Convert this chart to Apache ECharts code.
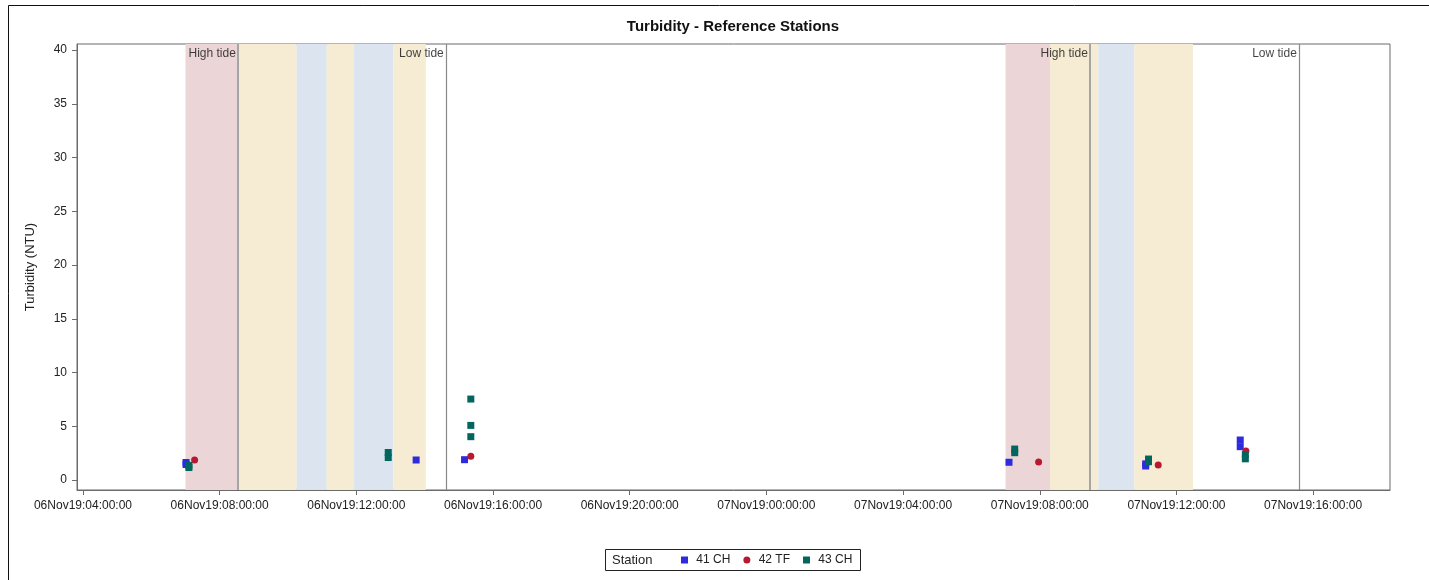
<!DOCTYPE html>
<html>
<head>
<meta charset="utf-8">
<script src="https://cdn.jsdelivr.net/npm/echarts@6/dist/echarts.min.js"></script>
<style>
html,body{margin:0;padding:0;background:#fff;}
#chart{width:1429px;height:580px;}
</style>
</head>
<body>
<div id="chart"></div>
<script>
// ---- data ----
const chartTitle = 'Turbidity - Reference Stations';
const yTitle = 'Turbidity (NTU)';
const stationNames = ['41 CH', '42 TF', '43 CH'];
const times41 = ['2019-11-06 07:01','2019-11-06 07:01','2019-11-06 13:45','2019-11-06 15:10','2019-11-07 07:06','2019-11-07 11:06','2019-11-07 11:06','2019-11-07 13:52','2019-11-07 13:52'];
const vals41  = [1.63, 1.44, 1.86, 1.89, 1.65, 1.5, 1.3, 3.72, 3.1];
const times42 = ['2019-11-06 07:16','2019-11-06 15:21','2019-11-07 07:58','2019-11-07 11:28','2019-11-07 14:02'];
const vals42  = [1.86, 2.2, 1.67, 1.4, 2.7];
const times43 = ['2019-11-06 07:06','2019-11-06 07:06','2019-11-06 12:56','2019-11-06 12:56','2019-11-06 15:21','2019-11-06 15:21','2019-11-06 15:21','2019-11-07 07:16','2019-11-07 07:16','2019-11-07 11:11','2019-11-07 11:11','2019-11-07 14:01','2019-11-07 14:01'];
const vals43  = [1.35, 1.16, 2.56, 2.09, 7.53, 5.08, 4.03, 2.88, 2.54, 1.95, 1.7, 2.37, 1.97];

const bandStarts = ['2019-11-06 07:00','2019-11-06 08:32','2019-11-06 10:15','2019-11-06 11:08','2019-11-06 11:56','2019-11-06 13:05',
                    '2019-11-07 07:00','2019-11-07 08:18','2019-11-07 09:43','2019-11-07 10:46'];
const bandEnds   = ['2019-11-06 08:32','2019-11-06 10:15','2019-11-06 11:08','2019-11-06 11:56','2019-11-06 13:05','2019-11-06 14:02',
                    '2019-11-07 08:18','2019-11-07 09:43','2019-11-07 10:46','2019-11-07 12:29'];
const bandTypes  = ['pink','yellow','blue','yellow','blue','yellow','pink','yellow','blue','yellow'];

const tideTimes  = ['2019-11-06 08:32','2019-11-06 14:37','2019-11-07 09:28','2019-11-07 15:35'];
const tideLabels = ['High tide','Low tide','High tide','Low tide'];

const xMin = '2019-11-06 03:49:30';
const xMax = '2019-11-07 18:15:00';
const xTicks = ['2019-11-06 04:00','2019-11-06 08:00','2019-11-06 12:00','2019-11-06 16:00','2019-11-06 20:00',
                '2019-11-07 00:00','2019-11-07 04:00','2019-11-07 08:00','2019-11-07 12:00','2019-11-07 16:00'];
const yTicks = [0, 5, 10, 15, 20, 25, 30, 35, 40];
const yMin = -0.93, yMax = 40.56;

// ---- helpers ----
function parseT(s){
  const m = s.match(/(\d+)-(\d+)-(\d+) (\d+):(\d+)(?::(\d+))?/);
  return Date.UTC(+m[1], +m[2]-1, +m[3], +m[4], +m[5], m[6]?+m[6]:0);
}
const MON = ['Jan','Feb','Mar','Apr','May','Jun','Jul','Aug','Sep','Oct','Nov','Dec'];
function p2(n){return (n<10?'0':'')+n;}
function fmtX(v){
  const d = new Date(v);
  return p2(d.getUTCDate()) + MON[d.getUTCMonth()] + String(d.getUTCFullYear()).slice(2) + ':' +
         p2(d.getUTCHours()) + ':' + p2(d.getUTCMinutes()) + ':' + p2(d.getUTCSeconds());
}
const bandColors = {pink:'#EBD5D7', yellow:'#F6EBD3', blue:'#DCE5EF'};
const seriesColors = ['#2E2BDD', '#B81830', '#03665E'];
const fontFam = 'Liberation Sans, Arial, sans-serif';

const chart = echarts.init(document.getElementById('chart'), null, {renderer:'canvas'});

const mkData = (ts, vs) => ts.map((t,i)=>[parseT(t), vs[i]]);

const option = {
  animation: false,
  backgroundColor: '#fff',
  textStyle: {fontFamily: fontFam},
  grid: {left: 77, right: 39, top: 44, bottom: 90, show: true, borderColor: '#6b6b6b', borderWidth: 1, backgroundColor: 'transparent'},
  xAxis: {
    type: 'value',
    min: parseT(xMin), max: parseT(xMax),
    axisLine: {show: true, onZero: false, lineStyle: {color: '#6b6b6b'}},
    axisTick: {show: true, length: 5, lineStyle: {color: '#6b6b6b'}, customValues: xTicks.map(parseT)},
    axisLabel: {color: '#222', fontSize: 12, fontFamily: fontFam, margin: 10, hideOverlap: false,
                customValues: xTicks.map(parseT), formatter: fmtX},
    splitLine: {show: false}
  },
  yAxis: {
    type: 'value',
    min: yMin, max: yMax,
    name: yTitle, nameLocation: 'middle', nameGap: 40,
    nameTextStyle: {color: '#222', fontSize: 13, fontFamily: fontFam},
    axisLine: {show: true, onZero: false, lineStyle: {color: '#6b6b6b'}},
    axisTick: {show: true, length: 5, lineStyle: {color: '#6b6b6b'}, customValues: yTicks},
    axisLabel: {color: '#222', fontSize: 12, fontFamily: fontFam, margin: 10, customValues: yTicks},
    splitLine: {show: false}
  },
  legend: {
    left: 676, top: 549,
    itemWidth: 7, itemHeight: 7, itemGap: 13,
    formatter: name => ' ' + name,
    textStyle: {fontSize: 12, color: '#222', fontFamily: fontFam},
    data: [
      {name: stationNames[0], icon: 'rect'},
      {name: stationNames[1], icon: 'circle'},
      {name: stationNames[2], icon: 'rect'}
    ]
  },
  graphic: [
    {type: 'rect', shape: {x: 8.5, y: 5.5, width: 1500, height: 700}, style: {fill: 'none', stroke: '#111', lineWidth: 1}, silent: true},
    {type: 'text', x: 733, y: 27, style: {text: chartTitle, font: 'bold 15px ' + fontFam, fill: '#111', textAlign: 'center', textVerticalAlign: 'middle'}},
    {type: 'rect', shape: {x: 605.5, y: 549.5, width: 255, height: 21}, style: {fill: 'none', stroke: '#222', lineWidth: 1}},
    {type: 'text', x: 612, y: 560, style: {text: 'Station', font: '13px ' + fontFam, fill: '#222', textVerticalAlign: 'middle'}}
  ],
  series: [
    {
      name: 'bands', type: 'scatter', data: [], silent: true, z: 1,
      markArea: {
        silent: true,
        data: bandStarts.map((s,i)=>[
          {xAxis: parseT(s), itemStyle: {color: bandColors[bandTypes[i]], opacity: 1}},
          {xAxis: parseT(bandEnds[i])}
        ])
      },
      markLine: {
        silent: true, symbol: 'none', animation: false,
        label: {show: false},
        data: tideTimes.map((t,i)=>({xAxis: parseT(t),
          lineStyle: {color: i===0||i===2 ? '#a5a5a5' : '#8a8a8a', width: i===0||i===2 ? 2 : 1.2, type: 'solid'}}))
      }
    },
    {
      name: 'tideText', type: 'scatter', symbolSize: 0, silent: true, z: 3,
      data: tideTimes.map((t,i)=>({value: [parseT(t), yMax], name: tideLabels[i]})),
      label: {show: true, position: 'left', distance: 2, offset: [0, 10], formatter: p => p.name,
              fontSize: 12, color: '#111', fontFamily: fontFam}
    },
    {name: stationNames[0], type: 'scatter', symbol: 'rect', symbolSize: 7, z: 5,
     itemStyle: {color: seriesColors[0], opacity: 1}, data: mkData(times41, vals41)},
    {name: stationNames[1], type: 'scatter', symbol: 'circle', symbolSize: 7, z: 5,
     itemStyle: {color: seriesColors[1], opacity: 1}, data: mkData(times42, vals42)},
    {name: stationNames[2], type: 'scatter', symbol: 'rect', symbolSize: 7, z: 5,
     itemStyle: {color: seriesColors[2], opacity: 1}, data: mkData(times43, vals43)}
  ]
};
chart.setOption(option);
</script>
</body>
</html>
